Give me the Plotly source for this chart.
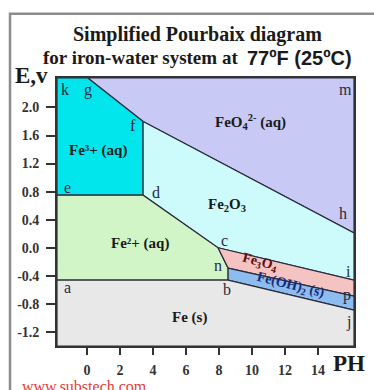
import plotly.graph_objects as go

# ---- data (pH, E in volts) ----
PH_MIN, PH_MAX = -1.82, 16.18
E_MIN, E_MAX = -1.40, 2.42

# boundary points
pt_g = (0.05, 2.42)
pt_f = (3.4, 1.80)
pt_h = (PH_MAX, 0.21)
pt_e = (PH_MIN, 0.75)
pt_d = (3.4, 0.75)
pt_c = (7.94, 0.0)
pt_n = (8.55, -0.29)
pt_b = (8.55, -0.46)
pt_a = (PH_MIN, -0.46)
pt_i = (PH_MAX, -0.46)
pt_p = (PH_MAX, -0.69)
pt_j = (PH_MAX, -0.89)
pt_k = (PH_MIN, E_MAX)
pt_m = (PH_MAX, E_MAX)
pt_br = (PH_MAX, E_MIN)
pt_bl = (PH_MIN, E_MIN)

region_names = ["FeO4", "Fe3+", "Fe2O3", "Fe2+", "Fe3O4", "Fe(OH)2", "Fe"]
region_points = [
    [pt_g, pt_m, pt_h, pt_f],
    [pt_k, pt_g, pt_f, pt_d, pt_e],
    [pt_f, pt_h, pt_i, pt_c, pt_d],
    [pt_e, pt_d, pt_c, pt_n, pt_b, pt_a],
    [pt_c, pt_i, pt_p, pt_n],
    [pt_n, pt_p, pt_j, pt_b],
    [pt_a, pt_b, pt_j, pt_br, pt_bl],
]
region_colors = ["#c9c9f6", "#00e6ec", "#cdfbfc", "#d2f5c8", "#f6c3c3", "#8cbcf0", "#e8e8e8"]

x_ticks = [0, 2, 4, 6, 8, 10, 12, 14]
y_ticks = [2.0, 1.6, 1.2, 0.8, 0.4, 0.0, -0.4, -0.8, -1.2]
y_tick_labels = ["2.0", "1.6", "1.2", "0.8", "0.4", "0.0", "-0.4", "-0.8", "-1.2"]

# region labels: text, pH, E, angle, color, size
region_labels = [
    ("Fe³+ (aq)", 0.67, 1.39, 0, "#1a1a1a", 15),
    ("FeO<sub>4</sub><sup>2-</sup> (aq)", 9.88, 1.79, 0, "#1a1a1a", 15),
    ("Fe<sub>2</sub>O<sub>3</sub>", 8.48, 0.61, 0, "#1a1a1a", 15),
    ("Fe²+ (aq)", 3.21, 0.056, 0, "#1a1a1a", 15),
    ("Fe<sub>3</sub>O<sub>4</sub>", 10.5, -0.215, 15, "#5a1010", 14),
    ("Fe(OH)<sub>2</sub> (s)", 12.36, -0.535, 14, "#1a2a7a", 14),
    ("Fe (s)", 6.24, -0.99, 0, "#1a1a1a", 15),
]
# point letters: letter, pH, E
point_labels = [
    ("k", -1.33, 2.25), ("g", 0.06, 2.25), ("f", 2.79, 1.74), ("e", -1.21, 0.86),
    ("d", 4.18, 0.79), ("c", 8.36, 0.11), ("n", 7.94, -0.25), ("b", 8.48, -0.60),
    ("a", -1.21, -0.56), ("m", 15.64, 2.25), ("h", 15.52, 0.49), ("i", 15.82, -0.34),
    ("p", 15.76, -0.67), ("j", 15.82, -1.06),
]

W, H = 374, 390
L, R, T, B = 57, 20, 78, 37
PW, PHT = W - L - R, H - T - B


def px(x):
    return (x - L) / PW


def py(y):
    return (H - B - y) / PHT


fig = go.Figure()
for name, pts, col in zip(region_names, region_points, region_colors):
    xs = [p[0] for p in pts] + [pts[0][0]]
    ys = [p[1] for p in pts] + [pts[0][1]]
    fig.add_trace(go.Scatter(x=xs, y=ys, mode="lines", fill="toself", fillcolor=col,
                             line=dict(color="#2b2b3a", width=1.2), name=name,
                             hoverinfo="skip", showlegend=False))

SERIF = "Liberation Serif, Times New Roman, serif"
SANS = "Liberation Sans, Arial, sans-serif"
ann = []
for txt, x, y, ang, col, sz in region_labels:
    ann.append(dict(x=x, y=y, xref="x", yref="y", text=txt, showarrow=False, textangle=ang,
                    font=dict(family=SERIF, size=sz, color=col, weight="bold")))
for txt, x, y in point_labels:
    ann.append(dict(x=x, y=y, xref="x", yref="y", text=txt, showarrow=False,
                    font=dict(family=SERIF, size=16, color="#2a2a40")))


def paper_text(x, y, text, font, xanchor="center"):
    return dict(x=px(x), y=py(y), xref="paper", yref="paper", text=text, showarrow=False,
                xanchor=xanchor, yanchor="middle", font=font)


ann.append(paper_text(197, 33, "Simplified Pourbaix diagram",
                      dict(family=SERIF, size=20, color="#1a1a1a", weight="bold")))
ann.append(paper_text(240, 57, "for iron-water system at",
                      dict(family=SERIF, size=19, color="#1a1a1a", weight="bold"), "right"))
ann.append(paper_text(245, 57, "77ºF (25ºC)",
                      dict(family=SANS, size=20, color="#1a1a1a", weight="bold"), "left"))
ann.append(paper_text(31, 75, "E,v", dict(family=SERIF, size=23, color="#1a1a1a", weight="bold")))
ann.append(paper_text(349, 371, "PH", dict(family=SERIF, size=23, color="#1a1a1a", weight="bold")))
ann.append(paper_text(20, 395, "www.substech.com", dict(family=SERIF, size=16, color="#e0403a"), "left"))

fig.update_layout(
    width=W, height=H, margin=dict(l=L, r=R, t=T, b=B),
    paper_bgcolor="white", plot_bgcolor="white",
    annotations=ann,
    shapes=[dict(type="rect", xref="paper", yref="paper", x0=px(10), x1=px(400),
                 y0=py(12), y1=py(420), line=dict(color="#8c8c8c", width=2.5), layer="below")],
    xaxis=dict(range=[PH_MIN, PH_MAX], tickvals=x_ticks, ticks="outside", ticklen=7, tickwidth=1.5,
               tickcolor="#333", showline=True, linecolor="#333", linewidth=1.8, mirror=True,
               showgrid=False, zeroline=False, ticklabelstandoff=3,
               tickfont=dict(family=SERIF, size=14, color="#333", weight="bold")),
    yaxis=dict(range=[E_MIN, E_MAX], tickvals=y_ticks, ticktext=y_tick_labels, ticks="outside",
               ticklen=9, tickwidth=1.5, tickcolor="#333", showline=True, linecolor="#333",
               linewidth=1.8, mirror=True, showgrid=False, zeroline=False, ticklabelstandoff=4,
               tickfont=dict(family=SERIF, size=14, color="#333", weight="bold")),
)

fig.write_html("out.html", config={"displayModeBar": False},
               post_script="document.body.style.margin='0px';")
